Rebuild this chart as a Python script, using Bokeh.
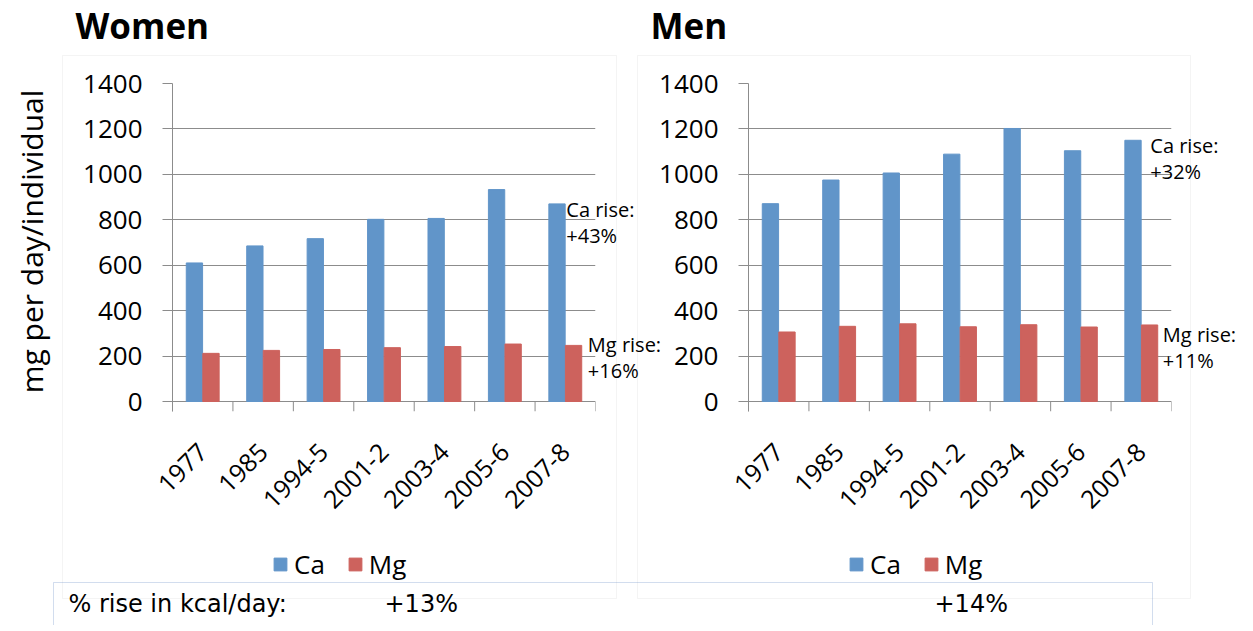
from math import pi
import numpy as np
from bokeh.plotting import figure
from bokeh.models import (Range1d, LinearAxis, FixedTicker,
                          Label, BoxAnnotation, Legend, LegendItem)
from bokeh.transform import dodge
from bokeh.layouts import row
from bokeh.embed import file_html
from bokeh.resources import INLINE

# ---------------- data ----------------
years = ["1977", "1985", "1994-5", "2001-2", "2003-4", "2005-6", "2007-8"]
women_ca = [610, 685, 717, 802, 806, 933, 870]
women_mg = [212, 225, 229, 237, 242, 253, 247]
men_ca = [871, 975, 1006, 1089, 1202, 1104, 1150]
men_mg = [306, 331, 342, 329, 338, 328, 337]
y_ticks = [0, 200, 400, 600, 800, 1000, 1200, 1400]
series_names = ["Ca", "Mg"]
panel_titles = ["Women", "Men"]
women_notes = ["Ca rise:\n+43%", "Mg rise:\n+16%"]
men_notes = ["Ca rise:\n+32%", "Mg rise:\n+11%"]
y_label = "mg per day/individual"
kcal_label = "% rise in kcal/day:"
kcal_rise = ["+13%", "+14%"]

# ---------------- style / geometry ----------------
BLUE = "#6195C9"
RED = "#CD625D"
GRID = "#8C8C8C"
FONT = "Open Sans"
W, H = 1237, 625
FRAME_W = 423
FRAME_TOP, FRAME_BOTTOM = 83, 411
Y_MIN, Y_MAX = -44, 1400          # small band below 0 holds the category tick marks
N = len(years)
pos = [i + 0.5 for i in range(N)]          # category centres on a 0..N scale
bounds = list(range(N + 1))                # category boundaries
BASE_SHIFT = 0.35                          # Bokeh draws "alphabetic" text ~0.35em low


def make_panel(ca, mg, left):
    p = figure(width=W, height=H,
               x_range=Range1d(0, N), y_range=Range1d(Y_MIN, Y_MAX),
               output_backend="svg", toolbar_location=None,
               x_axis_location=None,
               min_border_left=left, min_border_right=W - left - FRAME_W,
               min_border_top=FRAME_TOP, min_border_bottom=H - FRAME_BOTTOM,
               background_fill_color=None, border_fill_color=None,
               outline_line_color=None)
    p.frame_align = False
    p.xgrid.visible = False
    p.ygrid.ticker = FixedTicker(ticks=y_ticks)
    p.ygrid.grid_line_color = GRID
    ya = p.yaxis[0]
    ya.ticker = FixedTicker(ticks=y_ticks)
    ya.major_label_text_font = FONT
    ya.major_label_text_font_size = "26px"
    ya.major_label_text_color = "black"
    ya.axis_line_color = GRID
    ya.major_tick_line_color = GRID
    ya.major_tick_out = 10
    ya.major_tick_in = 0
    ya.minor_tick_line_color = None
    ya.major_label_standoff = 20

    cat = LinearAxis(ticker=FixedTicker(ticks=pos),
                     major_label_overrides={x: y for x, y in zip(pos, years)},
                     axis_line_color=None, major_tick_line_color=None,
                     minor_tick_line_color=None,
                     major_label_orientation=pi / 4,
                     major_label_text_font=FONT,
                     major_label_text_font_size="25px",
                     major_label_text_color="black",
                     major_label_standoff=30)
    p.add_layout(cat, "below")

    # category boundary tick marks
    p.segment(x0=bounds, y0=0, x1=bounds, y1=Y_MIN, line_color=GRID, line_width=1)

    src = dict(pos=pos, year=years, ca=ca, mg=mg)
    p.vbar(x=dodge("pos", -0.137), top="ca", width=0.27,
           source=src, fill_color=BLUE, line_color=BLUE)
    p.vbar(x=dodge("pos", 0.137), top="mg", width=0.27,
           source=src, fill_color=RED, line_color=RED)
    return p


pw = make_panel(women_ca, women_mg, 172)
pm = make_panel(men_ca, men_mg, 748)

# ---------------- decoration layer (page pixel coordinates) ----------------
deco = figure(width=W, height=H, x_range=Range1d(0, W), y_range=Range1d(H, 0),
              output_backend="svg", toolbar_location=None, title=None,
              x_axis_location=None, y_axis_location=None,
              min_border_left=0, min_border_right=0, min_border_top=0, min_border_bottom=0,
              background_fill_color=None, border_fill_color=None,
              outline_line_color=None)
deco.frame_align = False
deco.grid.visible = False


def px_x(left, u):
    return left + u * FRAME_W / N


def px_y(v):
    return FRAME_TOP + (Y_MAX - v) * (FRAME_BOTTOM - FRAME_TOP) / (Y_MAX - Y_MIN)


for x0, x1 in [(62, 616), (637, 1190)]:
    deco.add_layout(BoxAnnotation(left=x0, right=x1, top=55, bottom=598,
                                  fill_color=None, line_color="#D9D9D9", line_width=1))
deco.add_layout(BoxAnnotation(left=53, right=1152, top=582, bottom=700,
                              fill_color=None, line_color="#6A8FC8", line_width=1))

# panel titles (baseline at y=37)
for txt, x in [(panel_titles[0], 75), (panel_titles[1], 650)]:
    deco.add_layout(Label(x=x, y=37 - BASE_SHIFT * 35, text=txt, text_font=FONT,
                          text_font_size="35px", text_font_style="bold",
                          text_baseline="alphabetic", text_color="black"))

# y-axis title of the women panel
deco.add_layout(Label(x=31, y=241, text=y_label, angle=pi / 2, text_font=FONT,
                      text_font_size="30px", text_align="center",
                      text_baseline="middle", text_color="black"))

# kcal line (baseline at y=612)
for txt, x in [(kcal_label, 68), (kcal_rise[0], 384), (kcal_rise[1], 934)]:
    deco.add_layout(Label(x=x, y=612 - BASE_SHIFT * 24, text=txt, text_font="DejaVu Sans",
                          text_font_size="24px", text_baseline="alphabetic",
                          text_color="black"))

# rise notes beside the last pair of bars
note_specs = [
    (women_notes[0], px_x(172, pos[-1]) + 1, px_y(women_ca[-1]) - 8),
    (women_notes[1], px_x(172, pos[-1] + 0.274) + 6, px_y(women_mg[-1]) - 14),
    (men_notes[0], px_x(748, pos[-1]) + 9, px_y(men_ca[-1]) - 8),
    (men_notes[1], px_x(748, pos[-1] + 0.274) + 5, px_y(men_mg[-1]) - 4),
]
for txt, x, y in note_specs:
    deco.add_layout(Label(x=x, y=y, text=txt, text_font=FONT, text_font_size="20px",
                          text_line_height=0.96,
                          text_baseline="top", text_color="black"))

# legends (swatch renderers hold no visible points)
nan = np.array([np.nan])
d_ca = deco.vbar(x=nan, top=nan, width=1, fill_color=BLUE, line_color=BLUE)
d_mg = deco.vbar(x=nan, top=nan, width=1, fill_color=RED, line_color=RED)
for lx in (272, 848):
    deco.add_layout(Legend(items=[LegendItem(label=series_names[0], renderers=[d_ca]),
                                  LegendItem(label=series_names[1], renderers=[d_mg])],
                           orientation="horizontal", location=(lx, H - 582),
                           glyph_width=16, glyph_height=16, label_standoff=6, spacing=22,
                           padding=0, margin=0, border_line_color=None,
                           background_fill_color=None,
                           label_text_font=FONT, label_text_font_size="26px",
                           label_text_color="black"))

pm.margin = (0, 0, 0, -W)
deco.margin = (0, 0, 0, -W)
layout = row(pw, pm, deco)

open("out.html", "w").write(file_html(layout, INLINE))
